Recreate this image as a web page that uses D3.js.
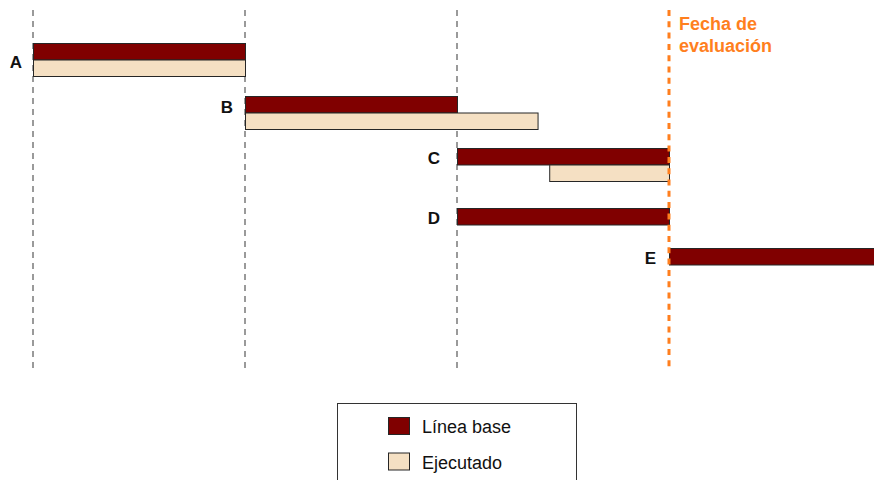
<!DOCTYPE html>
<html>
<head>
<meta charset="utf-8">
<script src="https://cdn.jsdelivr.net/npm/d3@7"></script>
<style>
  html, body { margin: 0; padding: 0; background: #fff; }
  svg { display: block; font-family: "Liberation Sans", Arial, sans-serif; }
</style>
</head>
<body>
<svg id="chart" width="874" height="480"></svg>
<script>
// Tasks and their planned / executed periods (in time units)
const tasks = ["A", "B", "C", "D", "E"];
const baselineStart = [0, 1, 2, 2, 3];
const baselineEnd   = [1, 2, 3, 3, 4];
const executedStart = [0, 1, 2.435, null, null];
const executedEnd   = [1, 2.38, 3, null, null];
const gridTicks = [0, 1, 2];
const evaluationDate = 3;
const legendLabels = ["Línea base", "Ejecutado"];

const colors = { base: "#800000", exec: "#f5e0c3", stroke: "#262626", eval: "#ff7f1e" };

const svg = d3.select("#chart");

const x = d3.scaleLinear().domain([0, 4]).range([33, 881]);
// row placement for each task
const y = d3.scaleOrdinal().domain(tasks).range([43, 96, 148, 208, 248]);
const barH = 16.5;

// label nudges per row
const labelDy = { A: 19, B: 11, C: 10, D: 10, E: 10 };
const labelDx = { A: 11, B: 12, C: 17, D: 17, E: 13 };

const guideTop = 10, guideBottom = 368;

// vertical guides
svg.append("g").selectAll("line").data(gridTicks).join("line")
  .attr("x1", d => x(d)).attr("x2", d => x(d))
  .attr("y1", guideTop).attr("y2", guideBottom)
  .attr("stroke", "#7a7a7a").attr("stroke-width", 1.5)
  .attr("stroke-dasharray", "6,5");

// bars
const rows = tasks.map((t, i) => ({
  t, bs: baselineStart[i], be: baselineEnd[i], es: executedStart[i], ee: executedEnd[i]
}));

const g = svg.append("g");
g.selectAll("rect.base").data(rows).join("rect")
  .attr("class", "base")
  .attr("x", d => x(d.bs) + 0.5)
  .attr("y", d => y(d.t) + 0.5)
  .attr("width", d => x(d.be) - x(d.bs))
  .attr("height", barH)
  .attr("fill", colors.base)
  .attr("stroke", colors.stroke).attr("stroke-width", 1);

g.selectAll("rect.exec").data(rows.filter(d => d.es !== null)).join("rect")
  .attr("class", "exec")
  .attr("x", d => x(d.es) + 0.5)
  .attr("y", d => y(d.t) + barH + 0.5)
  .attr("width", d => x(d.ee) - x(d.es))
  .attr("height", barH)
  .attr("fill", colors.exec)
  .attr("stroke", colors.stroke).attr("stroke-width", 1);

// task labels
g.selectAll("text.lbl").data(rows).join("text")
  .attr("class", "lbl")
  .attr("x", d => x(d.bs) - labelDx[d.t])
  .attr("y", d => y(d.t) + labelDy[d.t])
  .attr("dy", "0.36em")
  .attr("text-anchor", "end")
  .attr("font-size", 17).attr("font-weight", "bold").attr("fill", "#111")
  .text(d => d.t);

// evaluation date marker
svg.append("line")
  .attr("x1", x(evaluationDate)).attr("x2", x(evaluationDate))
  .attr("y1", guideTop).attr("y2", guideBottom)
  .attr("stroke", colors.eval).attr("stroke-width", 3)
  .attr("stroke-dasharray", "6,5.3");

const evalText = svg.append("text")
  .attr("x", x(evaluationDate) + 10).attr("y", 30)
  .attr("font-size", 18).attr("font-weight", "bold").attr("fill", colors.eval);
evalText.append("tspan").attr("x", x(evaluationDate) + 10).text("Fecha de");
evalText.append("tspan").attr("x", x(evaluationDate) + 10).attr("dy", 22).text("evaluación");

// legend
const lg = svg.append("g");
lg.append("rect")
  .attr("x", 337.5).attr("y", 403.5).attr("width", 239).attr("height", 90)
  .attr("fill", "#fff").attr("stroke", "#333").attr("stroke-width", 1);
const items = lg.selectAll("g.item").data(legendLabels).join("g")
  .attr("class", "item")
  .attr("transform", (d, i) => `translate(388.5, ${417.5 + i * 35.5})`);
items.append("rect")
  .attr("width", 21).attr("height", 17)
  .attr("fill", (d, i) => i === 0 ? colors.base : colors.exec)
  .attr("stroke", colors.stroke).attr("stroke-width", 1);
items.append("text")
  .attr("x", 33.5).attr("y", 15.5)
  .attr("font-size", 18).attr("fill", "#111")
  .text(d => d);
</script>
</body>
</html>
